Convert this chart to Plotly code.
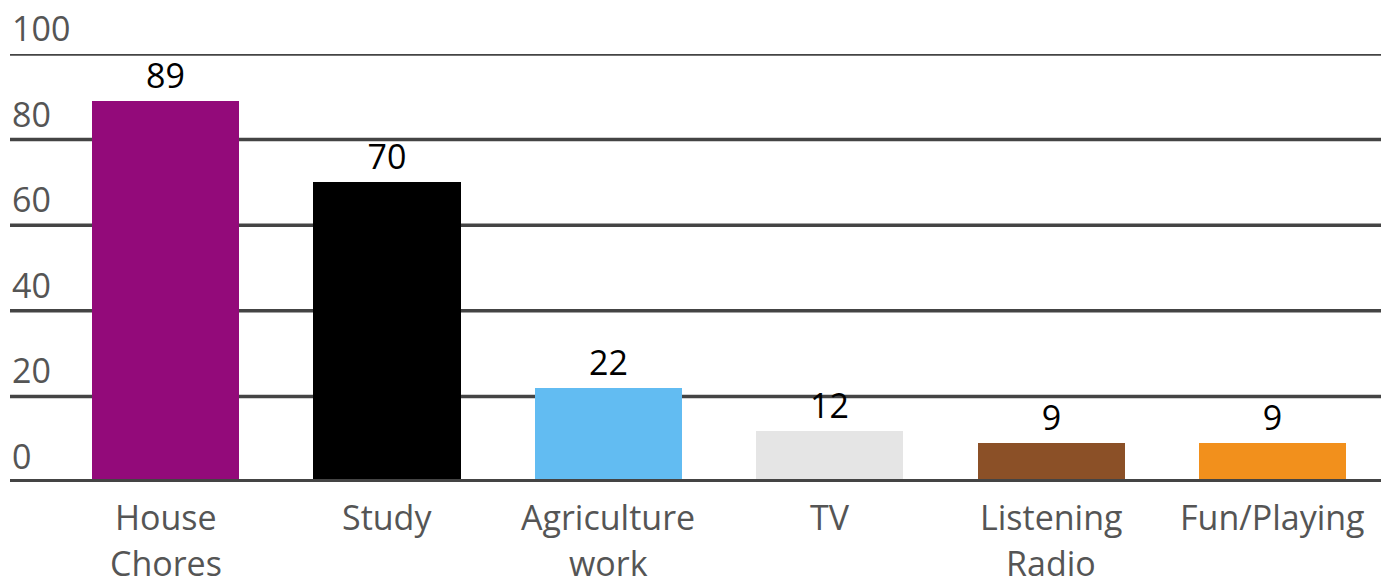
import plotly.graph_objects as go

categories = ["House Chores", "Study", "Agriculture work", "TV", "Listening Radio", "Fun/Playing"]
category_lines = [["House", "Chores"], ["Study"], ["Agriculture", "work"], ["TV"], ["Listening", "Radio"], ["Fun/Playing"]]
values = [89, 70, 22, 12, 9, 9]
colors = ["#930A7A", "#000000", "#62BCF2", "#E5E5E5", "#8B5027", "#F2901C"]
y_ticks = [0, 20, 40, 60, 80, 100]

W, H = 1381, 580
ML, MR, MT, MB = 55, 0, 54, 98

fig = go.Figure()
fig.add_trace(go.Bar(
    x=list(range(len(categories))), y=values,
    marker=dict(color=colors, line=dict(width=0)),
    width=0.665,
    text=[str(v) for v in values], textposition="outside",
    textfont=dict(family="Open Sans", size=34, color="#000000"),
    cliponaxis=False, hovertext=categories, hoverinfo="text+y",
))

pw = W - ML - MR
x_left = (10 - ML) / pw
shapes = []
for t in y_ticks:
    shapes.append(dict(type="line", xref="paper", yref="y", x0=x_left, x1=1, y0=t, y1=t,
                       line=dict(color="#444444", width=6 if t == 0 else 3.5),
                       layer="above" if t == 0 else "below"))
annotations = []
for t in y_ticks:
    annotations.append(dict(xref="paper", yref="y", x=x_left, y=t, text=str(t), showarrow=False,
                            xanchor="left", yanchor="bottom", yshift=1,
                            font=dict(family="Open Sans", size=34, color="#555555")))
for i, lines in enumerate(category_lines):
    for j, line in enumerate(lines):
        annotations.append(dict(xref="x", yref="paper", x=i, y=0, text=line, showarrow=False,
                                xanchor="center", yanchor="top", yshift=-10 - 46 * j,
                                font=dict(family="Open Sans", size=34, color="#555555")))

fig.update_layout(
    width=W, height=H, margin=dict(l=ML, r=MR, t=MT, b=MB),
    plot_bgcolor="white", paper_bgcolor="white",
    showlegend=False, shapes=shapes, annotations=annotations,
    xaxis=dict(range=[-0.5, 5.49], showgrid=False, zeroline=False, showline=False,
               ticks="", showticklabels=False),
    yaxis=dict(range=[0, 100], showgrid=False, zeroline=False, showticklabels=False, showline=False),
    bargap=0,
)
fig.write_html("out.html", config={"displayModeBar": False},
               post_script="document.body.style.margin='0';")
